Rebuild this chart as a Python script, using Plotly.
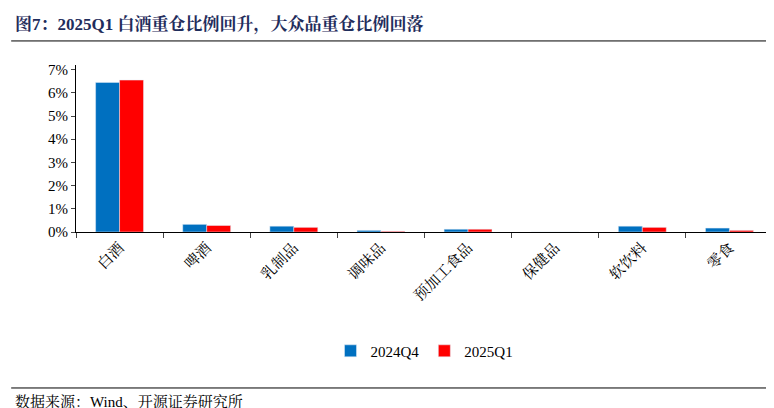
import plotly.graph_objects as go

categories = ["白酒", "啤酒", "乳制品", "调味品", "预加工食品", "保健品", "软饮料", "零食"]
q4_2024 = [6.45, 0.33, 0.25, 0.07, 0.12, 0.0, 0.25, 0.17]
q1_2025 = [6.55, 0.28, 0.20, 0.03, 0.12, 0.0, 0.20, 0.07]
yticks = [0, 1, 2, 3, 4, 5, 6, 7]

font = "Times New Roman, Liberation Serif, Noto Serif CJK SC, Noto Sans CJK SC, serif"
fig = go.Figure()
fig.add_bar(x=categories, y=q4_2024, name="2024Q4", marker_color="#0070C0")
fig.add_bar(x=categories, y=q1_2025, name="2025Q1", marker_color="#FF0000")
fig.update_layout(
    width=774, height=408, margin=dict(l=68, r=9, t=57, b=184, autoexpand=False),
    plot_bgcolor="white", paper_bgcolor="white",
    font=dict(family=font, size=15, color="black"),
    bargap=0.45, bargroupgap=0,
    legend=dict(orientation="h", x=0.5, xanchor="center", y=-0.713, yanchor="middle",
                font=dict(size=15)),
    showlegend=True,
)
fig.update_yaxes(range=[0, 7.2], tickvals=yticks, ticktext=[f"{v}%" for v in yticks],
                 showline=True, linecolor="black", ticks="outside", ticklen=4,
                 showgrid=False, zeroline=False, automargin=False)
fig.update_xaxes(showline=True, linecolor="black", tickangle=-45, ticks="outside",
                 tickson="boundaries", ticklen=5, automargin=False)
fig.add_annotation(text="<b>图7：2025Q1 白酒重仓比例回升，大众品重仓比例回落</b>",
                   xref="paper", yref="paper", x=-0.09, y=1.24, yanchor="middle",
                   xanchor="left", showarrow=False,
                   font=dict(size=17, color="#1F2D5C"))
fig.add_annotation(text="数据来源：Wind、开源证券研究所", xref="paper", yref="paper",
                   x=-0.09, xanchor="left", y=-1.012, yanchor="middle", showarrow=False,
                   font=dict(size=15))
fig.update_layout(shapes=[
    dict(type="line", xref="paper", yref="paper", x0=-0.093, x1=1.01, y0=1.144, y1=1.144,
         line=dict(color="black", width=1)),
    dict(type="line", xref="paper", yref="paper", x0=-0.093, x1=1.01, y0=-0.934, y1=-0.934,
         line=dict(color="black", width=1)),
])
fig.write_html("out.html")
